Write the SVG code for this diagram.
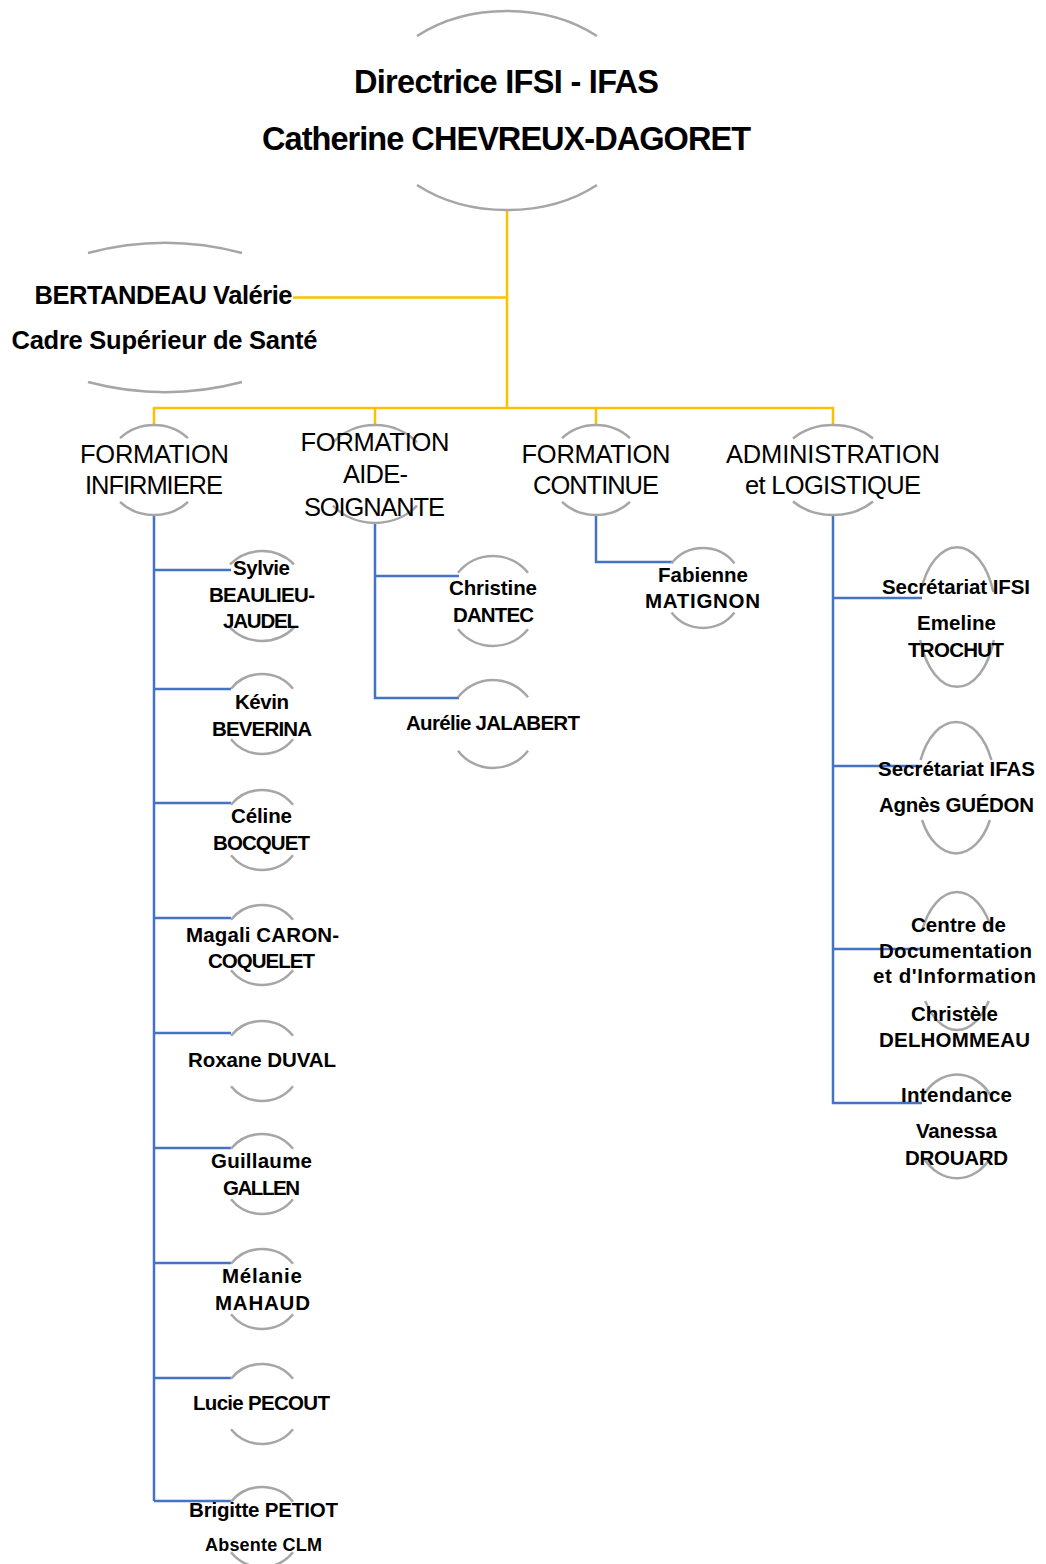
<svg xmlns="http://www.w3.org/2000/svg" width="1046" height="1564" viewBox="0 0 1046 1564">
<style>
.arc{fill:none;stroke:#A6A6A6;stroke-width:2.5}
.y{fill:none;stroke:#FFC000;stroke-width:2.5}
.b{fill:none;stroke:#4472C4;stroke-width:2.5}
text{font-family:"Liberation Sans",Arial,sans-serif;fill:#000;text-anchor:middle}
.t{font-size:32.5px;font-weight:bold}
.s{font-size:25.5px;font-weight:bold}
.l2{font-size:25.5px}
.lf{font-size:20.5px;font-weight:bold}
.sm{font-size:18px;font-weight:bold}
</style>
<rect width="1046" height="1564" fill="#fff"/>
<g id="connectors">
<path class="y" d="M507,210V408M293,297.5H507M154,425V408H833V425M375,408V425M596,408V425"/>
<path class="b" d="M154,515V1501M154,570H231M154,689H231M154,803H231M154,918H231M154,1033H231M154,1148H231M154,1263H231M154,1378H231M154,1501H231"/>
<path class="b" d="M375,523V698H459M375,576H459"/>
<path class="b" d="M596,515V562H672"/>
<path class="b" d="M833,515V1103H922M833,598H922M833,766H922M833,949H922"/>
</g>
<g id="node-directrice">
<path class="arc" d="M417,36A136,100 0 0 1 597,36M417,185A136,100 0 0 0 597,185"/>
<text class="t" x="506.5" y="93" textLength="305">Directrice IFSI - IFAS</text>
<text class="t" x="506.5" y="150" textLength="489">Catherine CHEVREUX-DAGORET</text>
</g>
<g id="node-bertandeau">
<path class="arc" d="M88,253A301,301 0 0 1 242,253M88,382A301,301 0 0 0 242,382"/>
<text class="s" x="163.5" y="304" textLength="258">BERTANDEAU Valérie</text>
<text class="s" x="164.5" y="349" textLength="306">Cadre Supérieur de Santé</text>
</g>
<g id="node-infirmiere">
<path class="arc" d="M120,438.2A48,45 0 0 1 188,438.2M120,501.8A48,45 0 0 0 188,501.8"/>
<text class="l2" x="154.5" y="463" textLength="149">FORMATION</text>
<text class="l2" x="154" y="494" textLength="138">INFIRMIERE</text>
</g>
<g id="node-aide-soignante">
<path class="arc" d="M333,442.4A55,49 0 0 1 417,442.4M333,505.6A55,49 0 0 0 417,505.6"/>
<text class="l2" x="375" y="451" textLength="149">FORMATION</text>
<text class="l2" x="375.5" y="483" textLength="65">AIDE-</text>
<text class="l2" x="374.5" y="516" textLength="141">SOIGNANTE</text>
</g>
<g id="node-continue">
<path class="arc" d="M562,438.2A48,45 0 0 1 630,438.2M562,501.8A48,45 0 0 0 630,501.8"/>
<text class="l2" x="596" y="463" textLength="149">FORMATION</text>
<text class="l2" x="596" y="494" textLength="126">CONTINUE</text>
</g>
<g id="node-administration">
<path class="arc" d="M793,438.5A56,45 0 0 1 873,438.5M793,501.5A56,45 0 0 0 873,501.5"/>
<text class="l2" x="833" y="463" textLength="214">ADMINISTRATION</text>
<text class="l2" x="833" y="494" textLength="176">et LOGISTIQUE</text>
</g>
<g id="node-sylvie">
<path class="arc" d="M230,564.4A45,45 0 0 1 294,564.4M230,627.6A45,45 0 0 0 294,627.6"/>
<text class="lf" x="261.5" y="575" textLength="57">Sylvie</text>
<text class="lf" x="262" y="602" textLength="106">BEAULIEU-</text>
<text class="lf" x="261" y="628" textLength="76">JAUDEL</text>
</g>
<g id="node-kevin">
<path class="arc" d="M231,688.7A40,40 0 0 1 293,688.7M231,739.3A40,40 0 0 0 293,739.3"/>
<text class="lf" x="262" y="709" textLength="54">Kévin</text>
<text class="lf" x="262" y="736" textLength="100">BEVERINA</text>
</g>
<g id="node-celine">
<path class="arc" d="M231,804.7A40,40 0 0 1 293,804.7M231,855.3A40,40 0 0 0 293,855.3"/>
<text class="lf" x="261.5" y="823" textLength="61">Céline</text>
<text class="lf" x="261.5" y="850" textLength="97">BOCQUET</text>
</g>
<g id="node-magali">
<path class="arc" d="M231,919.7A40,40 0 0 1 293,919.7M231,970.3A40,40 0 0 0 293,970.3"/>
<text class="lf" x="262.5" y="942" textLength="153">Magali CARON-</text>
<text class="lf" x="261.5" y="968" textLength="107">COQUELET</text>
</g>
<g id="node-roxane">
<path class="arc" d="M231,1035.7A40,40 0 0 1 293,1035.7M231,1086.3A40,40 0 0 0 293,1086.3"/>
<text class="lf" x="262" y="1067" textLength="148">Roxane DUVAL</text>
</g>
<g id="node-guillaume">
<path class="arc" d="M231,1148.7A40,40 0 0 1 293,1148.7M231,1199.3A40,40 0 0 0 293,1199.3"/>
<text class="lf" x="261.5" y="1168" textLength="101">Guillaume</text>
<text class="lf" x="261.5" y="1195" textLength="77">GALLEN</text>
</g>
<g id="node-melanie">
<path class="arc" d="M231,1263.7A40,40 0 0 1 293,1263.7M231,1314.3A40,40 0 0 0 293,1314.3"/>
<text class="lf" x="262" y="1283" textLength="80">Mélanie</text>
<text class="lf" x="262.5" y="1310" textLength="95">MAHAUD</text>
</g>
<g id="node-lucie">
<path class="arc" d="M231,1378.7A40,40 0 0 1 293,1378.7M231,1429.3A40,40 0 0 0 293,1429.3"/>
<text class="lf" x="261.5" y="1410" textLength="137">Lucie PECOUT</text>
</g>
<g id="node-brigitte">
<path class="arc" d="M231,1501.7A40,40 0 0 1 293,1501.7M231,1552.3A40,40 0 0 0 293,1552.3"/>
<text class="lf" x="263.5" y="1517" textLength="149">Brigitte PETIOT</text>
<text class="sm" x="263.5" y="1551" textLength="117">Absente CLM</text>
</g>
<g id="node-christine">
<path class="arc" d="M458,572.7A45,45 0 0 1 528,572.7M458,629.3A45,45 0 0 0 528,629.3"/>
<text class="lf" x="493" y="595" textLength="88">Christine</text>
<text class="lf" x="493.5" y="622" textLength="81">DANTEC</text>
</g>
<g id="node-aurelie">
<path class="arc" d="M458,697.3A44,44 0 0 1 528,697.3M458,750.7A44,44 0 0 0 528,750.7"/>
<text class="lf" x="493" y="730" textLength="174">Aurélie JALABERT</text>
</g>
<g id="node-fabienne">
<path class="arc" d="M671.5,563.4A40,40 0 0 1 734.5,563.4M671.5,612.6A40,40 0 0 0 734.5,612.6"/>
<text class="lf" x="703" y="582" textLength="90">Fabienne</text>
<text class="lf" x="702.5" y="608" textLength="115">MATIGNON</text>
</g>
<g id="node-secretariat-ifsi">
<path class="arc" d="M920.6,592A39,70 0 0 1 993.4,592M920.2,640A39,70 0 0 0 993.8,640"/>
<text class="lf" x="956" y="594" textLength="148">Secrétariat IFSI</text>
<text class="lf" x="956.5" y="630" textLength="79">Emeline</text>
<text class="lf" x="956" y="657" textLength="96">TROCHUT</text>
</g>
<g id="node-secretariat-ifas">
<path class="arc" d="M920.6,760A39,65.5 0 0 1 991.4,760M922,820A39,65.5 0 0 0 990,820"/>
<text class="lf" x="956.5" y="776" textLength="157">Secrétariat IFAS</text>
<text class="lf" x="956.5" y="812" textLength="155">Agnès GUÉDON</text>
</g>
<g id="node-cdi">
<path class="arc" d="M921.9,931A39,69 0 0 1 992.1,931M925.2,1001A39,69 0 0 0 988.8,1001"/>
<text class="lf" x="958.5" y="932" textLength="95">Centre de</text>
<text class="lf" x="955.5" y="958" textLength="153">Documentation</text>
<text class="lf" x="954.5" y="983" textLength="163">et d'Information</text>
<text class="lf" x="954.5" y="1021" textLength="87">Christèle</text>
<text class="lf" x="954.5" y="1047" textLength="151">DELHOMMEAU</text>
</g>
<g id="node-intendance">
<path class="arc" d="M923,1096A42,52 0 0 1 991,1096M924,1158.5A42,52 0 0 0 990,1158.5"/>
<text class="lf" x="956.5" y="1102" textLength="111">Intendance</text>
<text class="lf" x="956.5" y="1138" textLength="81">Vanessa</text>
<text class="lf" x="956.5" y="1165" textLength="103">DROUARD</text>
</g>
</svg>
